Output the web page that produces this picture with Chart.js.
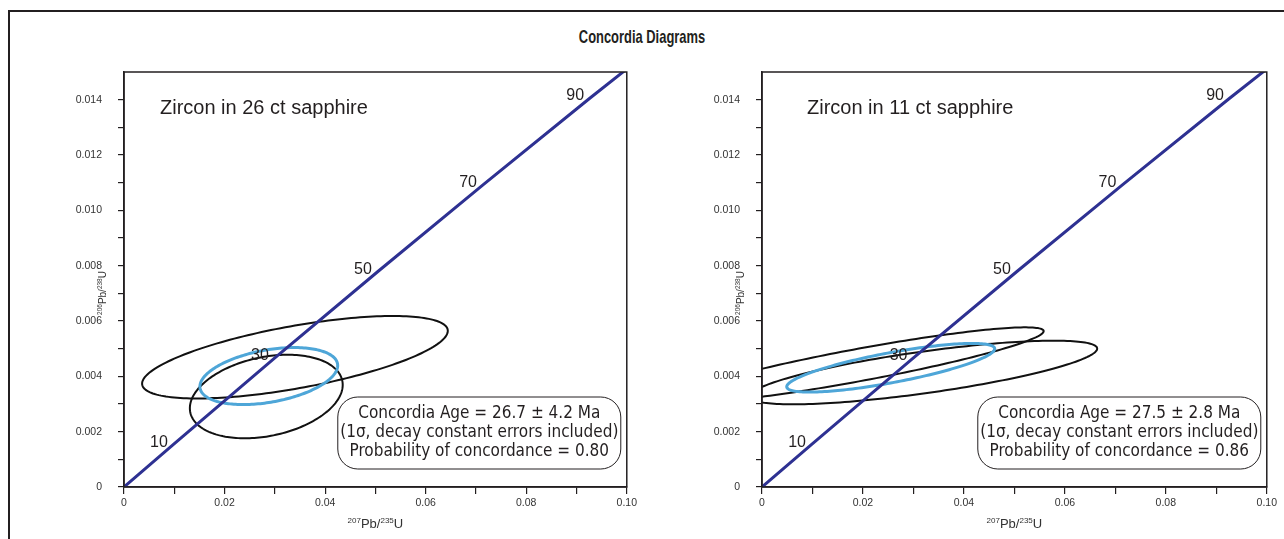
<!DOCTYPE html>
<html>
<head>
    <title>Concordia Diagrams</title>
    <style>
        body {
            margin: 0;
            width: 1284px;
            height: 539px;
            overflow: hidden;
            position: relative;
            background: #fff;
            font-family: "Liberation Sans", Arial, sans-serif;
        }
        .frame {
            position: absolute;
            left: 8px;
            top: 10px;
            width: 1320px;
            height: 600px;
            border: 2px solid #231f20;
        }
        h1 {
            position: absolute;
            left: 0;
            top: 26px;
            width: 1284px;
            margin: 0;
            text-align: center;
            font: bold 19px "Liberation Sans", Arial, sans-serif;
            line-height: 22px;
            color: #231f20;
            transform: scaleX(0.68);
        }
        canvas {
            position: absolute;
            top: 60px;
        }
    </style>
</head>
<body>
    <div class="frame"></div>
    <h1>Concordia Diagrams</h1>
    <canvas id="left-chart" width="640" height="479" style="left:0"></canvas>
    <canvas id="right-chart" width="640" height="479" style="left:640px"></canvas>

    <script src="https://cdn.jsdelivr.net/npm/chart.js"></script>
    <script>
        // Concordia curve (age in Ma, 207Pb/235U, 206Pb/238U)
        const concordiaAges = [0, 10, 30, 50, 70, 90, 96.7];
        const concordiaX = [0, 0.0099, 0.0300, 0.0505, 0.0714, 0.0927, 0.1000];
        const concordiaY = [0, 0.00155, 0.00467, 0.00779, 0.01092, 0.01406, 0.01511];
        const labelledAges = [10, 30, 50, 70, 90];

        // tick labels
        const xTickLabels = ['0', '0.02', '0.04', '0.06', '0.08', '0.10'];
        const yTickLabels = ['0', '0.002', '0.004', '0.006', '0.008', '0.010', '0.012', '0.014'];

        // error ellipses: [x centre, y centre, x half-extent, y half-extent, correlation]
        const leftSpots = [
            [0.0340, 0.00469, 0.0304, 0.00149, 0.64],
            [0.0283, 0.00327, 0.0152, 0.00151, 0.28]
        ];
        const leftAgeEllipse = [0.0288, 0.00401, 0.0137, 0.00103, 0.37];

        const rightSpots = [
            [0.0192, 0.00441, 0.0366, 0.00136, 0.90],
            [0.0320, 0.00414, 0.0344, 0.00115, 0.75]
        ];
        const rightAgeEllipse = [0.0255, 0.00431, 0.0206, 0.00088, 0.78];

        const leftSample = 'Zircon in 26 ct sapphire';
        const rightSample = 'Zircon in 11 ct sapphire';
        const leftAgeText = ['Concordia Age = 26.7 ± 4.2 Ma', '(1σ, decay constant errors included)', 'Probability of concordance = 0.80'];
        const rightAgeText = ['Concordia Age = 27.5 ± 2.8 Ma', '(1σ, decay constant errors included)', 'Probability of concordance = 0.86'];

        const ink = '#231f20';
        const sans = '"Liberation Sans", Arial, sans-serif';
        const narrow = '"Liberation Sans Narrow", "DejaVu Sans Condensed", Arial, sans-serif';

        function traceEllipse(ctx, xs, ys, e) {
            const [cx, cy, sx, sy, rho] = e;
            const k = Math.sqrt(1 - rho * rho);
            ctx.beginPath();
            for (let i = 0; i <= 200; i++) {
                const t = i / 200 * 2 * Math.PI;
                const px = xs.getPixelForValue(cx + sx * Math.cos(t));
                const py = ys.getPixelForValue(cy + sy * (rho * Math.cos(t) + k * Math.sin(t)));
                if (i === 0) ctx.moveTo(px, py); else ctx.lineTo(px, py);
            }
            ctx.closePath();
        }

        // draws parts with superscripts, centred at 0,0
        function drawSupText(ctx, parts, size, supSize) {
            let total = 0;
            parts.forEach(p => {
                ctx.font = (p.sup ? supSize : size) + 'px ' + sans;
                p.w = ctx.measureText(p.t).width;
                total += p.w;
            });
            let x = -total / 2;
            ctx.textAlign = 'left';
            ctx.textBaseline = 'alphabetic';
            parts.forEach(p => {
                ctx.font = (p.sup ? supSize : size) + 'px ' + sans;
                ctx.fillText(p.t, x, p.sup ? -size * 0.38 : 0);
                x += p.w;
            });
        }

        const panelPlugin = {
            id: 'panel',
            beforeDatasetsDraw(chart) {
                const ctx = chart.ctx, a = chart.chartArea, o = chart.options.panel;
                const xs = chart.scales.x, ys = chart.scales.y;
                ctx.save();
                ctx.beginPath();
                ctx.rect(a.left, a.top, a.right - a.left, a.bottom - a.top);
                ctx.clip();
                ctx.lineWidth = 2;
                ctx.strokeStyle = '#111';
                o.spots.forEach(e => { traceEllipse(ctx, xs, ys, e); ctx.stroke(); });
                ctx.lineWidth = 3;
                ctx.strokeStyle = '#4ea6d8';
                traceEllipse(ctx, xs, ys, o.ageEllipse);
                ctx.stroke();
                ctx.restore();
            },
            afterDatasetsDraw(chart) {
                const ctx = chart.ctx, a = chart.chartArea, o = chart.options.panel;
                const xs = chart.scales.x, ys = chart.scales.y;
                ctx.save();
                ctx.fillStyle = ink;
                // age labels on the concordia
                ctx.font = '16px ' + sans;
                ctx.textAlign = 'right';
                ctx.textBaseline = 'middle';
                labelledAges.forEach(age => {
                    const i = concordiaAges.indexOf(age);
                    ctx.fillText(String(age), xs.getPixelForValue(concordiaX[i]) - 6, ys.getPixelForValue(concordiaY[i]) - 2);
                });
                // sample name
                ctx.font = '20px ' + sans;
                ctx.textAlign = 'left';
                ctx.fillText(o.sample, a.left + o.nameOffset, a.top + 36);
                // age box
                const bw = 283, bh = 72;
                const bx = a.right - 6 - bw, by = a.bottom - 18 - bh;
                ctx.beginPath();
                ctx.roundRect(bx, by, bw, bh, 20);
                ctx.fillStyle = '#fff';
                ctx.fill();
                ctx.lineWidth = 1;
                ctx.strokeStyle = ink;
                ctx.stroke();
                ctx.fillStyle = ink;
                ctx.font = '17px ' + narrow;
                ctx.textAlign = 'center';
                o.ageText.forEach((line, i) => ctx.fillText(line, bx + bw / 2, by + 17 + i * 19));
                ctx.restore();
            },
            afterDraw(chart) {
                const ctx = chart.ctx, a = chart.chartArea, o = chart.options.panel;
                ctx.save();
                ctx.strokeStyle = ink;
                ctx.lineWidth = 1.5;
                ctx.strokeRect(a.left, a.top, a.right - a.left, a.bottom - a.top);
                ctx.fillStyle = '#333';
                // x title
                ctx.save();
                ctx.translate((a.left + a.right) / 2, a.bottom + 41);
                drawSupText(ctx, [{ t: '207', sup: true }, { t: 'Pb/' }, { t: '235', sup: true }, { t: 'U' }], 13, 8);
                ctx.restore();
                // y title
                ctx.save();
                ctx.translate(a.left - o.yTitleGap, 293 - 60);
                ctx.rotate(-Math.PI / 2);
                drawSupText(ctx, [{ t: '206', sup: true }, { t: 'Pb/' }, { t: '238', sup: true }, { t: 'U' }], 10, 6.5);
                ctx.restore();
                ctx.restore();
            }
        };

        function makePanel(id, opts) {
            const tickFont = { family: sans, size: 10.5 };
            return new Chart(document.getElementById(id), {
                type: 'line',
                data: {
                    datasets: [{
                        data: concordiaX.map((x, i) => ({ x: x, y: concordiaY[i] })),
                        borderColor: '#2e3192',
                        borderWidth: 3,
                        pointRadius: 0,
                        tension: 0
                    }]
                },
                options: {
                    responsive: false,
                    animation: false,
                    layout: { padding: { top: 12, right: 13, left: 0, bottom: 0 } },
                    plugins: { legend: { display: false }, tooltip: { enabled: false } },
                    panel: opts,
                    scales: {
                        x: {
                            type: 'linear',
                            min: 0,
                            max: 0.1,
                            ticks: {
                                stepSize: 0.01,
                                autoSkip: false,
                                maxRotation: 0,
                                padding: 3,
                                color: '#333',
                                font: tickFont,
                                callback: (v, i) => (i % 2 === 0 ? xTickLabels[i / 2] : '')
                            },
                            grid: { drawOnChartArea: false, drawTicks: true, tickLength: 7, color: ink, lineWidth: 1.2 },
                            border: { color: ink, width: 1.5 },
                            afterFit: s => { s.height = 52; }
                        },
                        y: {
                            type: 'linear',
                            min: 0,
                            max: 0.015,
                            afterBuildTicks: s => { s.ticks = s.ticks.filter(t => t.value < 0.0145); },
                            ticks: {
                                stepSize: 0.001,
                                autoSkip: false,
                                padding: 16,
                                color: '#333',
                                font: tickFont,
                                callback: (v, i) => (i % 2 === 0 ? yTickLabels[i / 2] : '')
                            },
                            grid: { drawOnChartArea: false, drawTicks: true, tickLength: 6, color: ink, lineWidth: 1.2 },
                            border: { color: ink, width: 1.5 },
                            afterFit: s => {
                                s.width = opts.axisWidth;
                                s.paddingTop = 6;
                                s.paddingBottom = 6;
                            }
                        }
                    }
                },
                plugins: [panelPlugin]
            });
        }

        makePanel('left-chart', {
            spots: leftSpots, ageEllipse: leftAgeEllipse, sample: leftSample, ageText: leftAgeText,
            axisWidth: 124, nameOffset: 36, yTitleGap: 18
        });
        makePanel('right-chart', {
            spots: rightSpots, ageEllipse: rightAgeEllipse, sample: rightSample, ageText: rightAgeText,
            axisWidth: 122, nameOffset: 45, yTitleGap: 18
        });
    </script>
</body>
</html>
